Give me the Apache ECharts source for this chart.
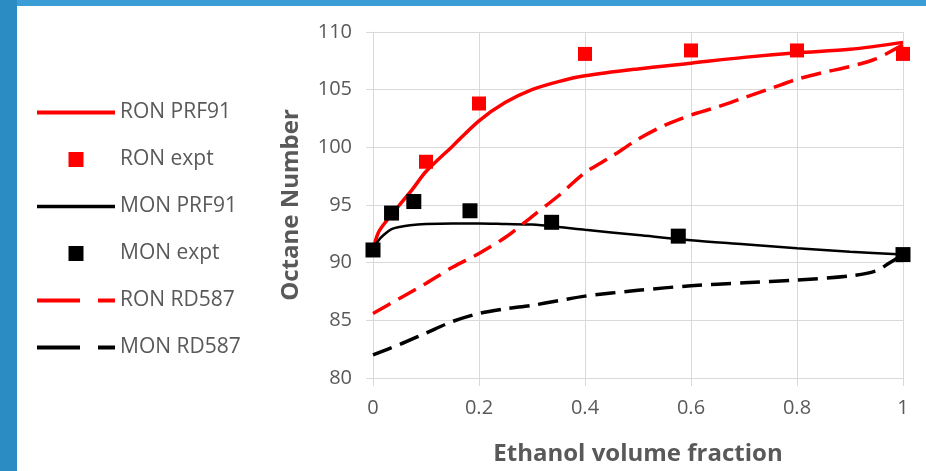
<!DOCTYPE html>
<html>
<head>
<meta charset="utf-8">
<script src="https://cdn.jsdelivr.net/npm/echarts@6/dist/echarts.min.js"></script>
<style>html,body{margin:0;padding:0;background:#fff}#c{width:926px;height:471px}</style>
</head>
<body>
<div id="c"></div>
<script>
// ---- data ----
const xTicks = [0, 0.2, 0.4, 0.6, 0.8, 1];
const yTicks = [80, 85, 90, 95, 100, 105, 110];

const ronPrfX = [0, 0.01, 0.025, 0.05, 0.075, 0.1, 0.15, 0.2, 0.25, 0.3, 0.35, 0.4, 0.5, 0.6, 0.7, 0.8, 0.9, 1.0];
const ronPrfY = [91.1, 92.6, 93.6, 95.0, 96.4, 97.9, 100.1, 102.3, 103.9, 105.0, 105.7, 106.2, 106.8, 107.3, 107.8, 108.2, 108.5, 109.1];

const ronExptX = [0, 0.1, 0.2, 0.4, 0.6, 0.8, 1.0];
const ronExptY = [91.1, 98.75, 103.8, 108.1, 108.4, 108.4, 108.1];

const monPrfX = [0, 0.01, 0.02, 0.035, 0.05, 0.07, 0.1, 0.15, 0.2, 0.25, 0.3, 0.35, 0.4, 0.5, 0.6, 0.7, 0.8, 0.9, 1.0];
const monPrfY = [91.1, 91.9, 92.4, 92.9, 93.1, 93.25, 93.35, 93.4, 93.4, 93.35, 93.3, 93.1, 92.85, 92.4, 91.95, 91.6, 91.25, 90.95, 90.7];

const monExptX = [0, 0.035, 0.077, 0.183, 0.337, 0.576, 1.0];
const monExptY = [91.1, 94.3, 95.3, 94.5, 93.5, 92.3, 90.7];

const ronRdX = [0, 0.05, 0.1, 0.15, 0.2, 0.25, 0.3, 0.35, 0.4, 0.45, 0.5, 0.55, 0.6, 0.65, 0.7, 0.75, 0.8, 0.85, 0.9, 0.95, 1.0];
const ronRdY = [85.6, 86.9, 88.2, 89.6, 90.8, 92.2, 94.0, 95.8, 97.8, 99.2, 100.7, 101.9, 102.8, 103.5, 104.3, 105.1, 105.9, 106.5, 107.0, 107.7, 108.9];

const monRdX = [0, 0.05, 0.1, 0.15, 0.2, 0.25, 0.3, 0.35, 0.4, 0.5, 0.6, 0.7, 0.8, 0.9, 0.95, 0.975, 1.0];
const monRdY = [82.0, 82.9, 83.9, 84.9, 85.6, 86.0, 86.3, 86.7, 87.1, 87.6, 88.0, 88.25, 88.5, 88.85, 89.3, 90.0, 90.7];

const seriesNames = ['RON PRF91', 'RON expt', 'MON PRF91', 'MON expt', 'RON RD587', 'MON RD587'];

const zip = (xs, ys) => xs.map((x, i) => [x, ys[i]]);
const gray = '#595959';
const font = 'Open Sans';
const iconSolid = 'path://M0,0h78v4h-78z';
const iconThin = 'path://M0,0h78v3.4h-78z';
const iconDash = 'path://M0,0h43v4h-43z M61,0h17v4h-17z';
const iconSquare = 'path://M0,0h15v15h-15z';

const chart = echarts.init(document.getElementById('c'), null, {renderer: 'canvas'});
chart.setOption({
  backgroundColor: '#ffffff',
  animation: false,
  graphic: [
    {type: 'rect', shape: {x: 0, y: 0, width: 926, height: 6}, style: {fill: '#3b9dd5'}, z: 100},
    {type: 'rect', shape: {x: 0, y: 0, width: 17, height: 471}, style: {fill: '#2b8cc4'}, z: 100}
  ],
  grid: {left: 373, right: 23, top: 32, bottom: 88},
  legend: {
    orient: 'vertical',
    left: 32,
    top: 97,
    itemWidth: 78,
    itemHeight: 15,
    itemGap: 26,
    symbolKeepAspect: true,
    textStyle: {color: gray, fontSize: 21, fontFamily: font, lineHeight: 15},
    data: [
      {name: seriesNames[0], icon: iconSolid},
      {name: seriesNames[1], icon: iconSquare},
      {name: seriesNames[2], icon: iconThin},
      {name: seriesNames[3], icon: iconSquare},
      {name: seriesNames[4], icon: iconDash},
      {name: seriesNames[5], icon: iconDash}
    ]
  },
  xAxis: {
    type: 'value', min: xTicks[0], max: xTicks[xTicks.length - 1], interval: 0.2,
    name: 'Ethanol volume fraction', nameLocation: 'middle', nameGap: 64,
    nameTextStyle: {color: gray, fontSize: 24, fontWeight: 'bold', fontFamily: font},
    axisLine: {show: true, lineStyle: {color: '#d9d9d9', width: 1}},
    axisTick: {show: true, length: 8, lineStyle: {color: '#d9d9d9'}},
    axisLabel: {color: gray, fontSize: 20, fontFamily: font, margin: 20},
    splitLine: {show: true, lineStyle: {color: '#d9d9d9', width: 1}}
  },
  yAxis: {
    type: 'value', min: yTicks[0], max: yTicks[yTicks.length - 1], interval: 5,
    name: 'Octane Number', nameLocation: 'middle', nameGap: 70,
    nameTextStyle: {color: gray, fontSize: 24, fontWeight: 'bold', fontFamily: font},
    axisLine: {show: true, lineStyle: {color: '#d9d9d9', width: 1}},
    axisTick: {show: true, length: 7, lineStyle: {color: '#d9d9d9'}},
    axisLabel: {color: gray, fontSize: 20, fontFamily: font, margin: 21},
    splitLine: {show: true, lineStyle: {color: '#d9d9d9', width: 1}}
  },
  series: [
    {name: seriesNames[0], type: 'line', data: zip(ronPrfX, ronPrfY), smooth: 0.3, showSymbol: false, symbol: 'none',
     lineStyle: {color: '#ff0000', width: 3.5}, itemStyle: {color: '#ff0000'}, z: 2},
    {name: seriesNames[2], type: 'line', data: zip(monPrfX, monPrfY), smooth: 0.3, showSymbol: false, symbol: 'none',
     lineStyle: {color: '#000000', width: 2.5}, itemStyle: {color: '#000000'}, z: 2},
    {name: seriesNames[4], type: 'line', data: zip(ronRdX, ronRdY), smooth: 0.3, showSymbol: false, symbol: 'none',
     lineStyle: {color: '#ff0000', width: 3.5, type: [20, 9]}, itemStyle: {color: '#ff0000'}, z: 2},
    {name: seriesNames[5], type: 'line', data: zip(monRdX, monRdY), smooth: 0.3, showSymbol: false, symbol: 'none',
     lineStyle: {color: '#000000', width: 3.5, type: [20, 9]}, itemStyle: {color: '#000000'}, z: 2},
    {name: seriesNames[1], type: 'scatter', data: zip(ronExptX, ronExptY), symbol: 'rect', symbolSize: 14,
     itemStyle: {color: '#ff0000', opacity: 1}, z: 3},
    {name: seriesNames[3], type: 'scatter', data: zip(monExptX, monExptY), symbol: 'rect', symbolSize: 15,
     itemStyle: {color: '#000000', opacity: 1}, z: 4}
  ]
});
</script>
</body>
</html>
